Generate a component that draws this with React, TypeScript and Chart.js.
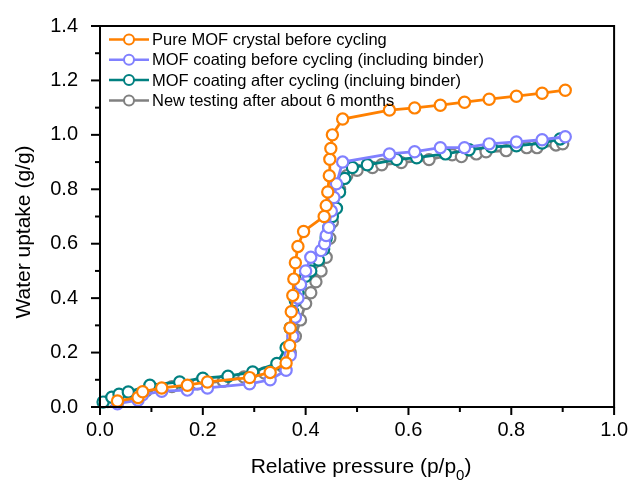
import React, { useEffect, useRef } from "react";
import { Chart, registerables } from "chart.js";

Chart.register(...registerables);

const FONT = "'Liberation Sans', Arial, sans-serif";

// Pure MOF crystal before cycling
const pureX = [0.034, 0.074, 0.083, 0.12, 0.17, 0.209, 0.291, 0.331, 0.362, 0.369, 0.37, 0.372, 0.375, 0.377, 0.38, 0.385, 0.396, 0.436, 0.44, 0.443, 0.446, 0.447, 0.449, 0.452, 0.472, 0.563, 0.612, 0.662, 0.709, 0.757, 0.81, 0.86, 0.905];
const pureY = [0.022, 0.035, 0.056, 0.07, 0.08, 0.092, 0.108, 0.127, 0.162, 0.226, 0.29, 0.35, 0.41, 0.47, 0.53, 0.59, 0.645, 0.70, 0.74, 0.79, 0.85, 0.91, 0.95, 1.0, 1.058, 1.091, 1.099, 1.109, 1.12, 1.131, 1.142, 1.153, 1.164];

// MOF coating before cycling (including binder)
const coatX = [0.034, 0.074, 0.083, 0.12, 0.17, 0.209, 0.291, 0.331, 0.362, 0.37, 0.375, 0.38, 0.385, 0.39, 0.40, 0.41, 0.43, 0.437, 0.44, 0.445, 0.45, 0.455, 0.46, 0.472, 0.563, 0.612, 0.662, 0.709, 0.757, 0.81, 0.86, 0.905];
const coatY = [0.012, 0.025, 0.045, 0.058, 0.062, 0.07, 0.085, 0.10, 0.135, 0.19, 0.26, 0.33, 0.40, 0.45, 0.50, 0.55, 0.575, 0.60, 0.63, 0.66, 0.72, 0.77, 0.82, 0.90, 0.93, 0.938, 0.953, 0.953, 0.967, 0.974, 0.982, 0.993];

// MOF coating after cycling (incluing binder)
const afterX = [0.006, 0.023, 0.037, 0.055, 0.097, 0.155, 0.2, 0.249, 0.297, 0.344, 0.362, 0.37, 0.375, 0.38, 0.385, 0.39, 0.40, 0.41, 0.425, 0.435, 0.44, 0.445, 0.452, 0.46, 0.466, 0.476, 0.491, 0.52, 0.577, 0.616, 0.672, 0.718, 0.761, 0.81, 0.86, 0.895];
const afterY = [0.018, 0.036, 0.047, 0.055, 0.08, 0.092, 0.106, 0.113, 0.129, 0.16, 0.218, 0.29, 0.35, 0.39, 0.42, 0.45, 0.48, 0.50, 0.54, 0.58, 0.62, 0.66, 0.70, 0.73, 0.79, 0.84, 0.88, 0.89, 0.909, 0.916, 0.93, 0.945, 0.956, 0.96, 0.97, 0.985];

// New testing after about 6 months
const newX = [0.015, 0.05, 0.09, 0.14, 0.19, 0.24, 0.28, 0.32, 0.355, 0.37, 0.38, 0.39, 0.40, 0.41, 0.42, 0.43, 0.44, 0.447, 0.452, 0.458, 0.466, 0.48, 0.50, 0.53, 0.548, 0.586, 0.64, 0.685, 0.703, 0.732, 0.751, 0.79, 0.83, 0.85, 0.887, 0.9];
const newY = [0.02, 0.04, 0.06, 0.075, 0.085, 0.095, 0.11, 0.125, 0.15, 0.20, 0.26, 0.32, 0.38, 0.42, 0.46, 0.50, 0.55, 0.62, 0.68, 0.73, 0.80, 0.85, 0.87, 0.88, 0.89, 0.898, 0.909, 0.927, 0.92, 0.93, 0.938, 0.942, 0.953, 0.953, 0.963, 0.967];

const seriesLabels = [
  "Pure MOF crystal before cycling",
  "MOF coating before cycling (including binder)",
  "MOF coating after cycling (incluing binder)",
  "New testing after about 6 months",
];
const seriesColors = ["#FF8000", "#8080FF", "#008080", "#808080"];
const seriesXs = [pureX, coatX, afterX, newX];
const seriesYs = [pureY, coatY, afterY, newY];

const xTitle = "Relative pressure (p/p";
const xTitleSub = "0";
const yTitle = "Water uptake (g/g)";

const isMajor = (v: number) => Math.round(v * 10) % 2 === 0;

// Frame, tick marks, axis titles and the in-plot legend
const decorations = {
  id: "decorations",
  afterDatasetsDraw(chart: any) {
    const { ctx, chartArea: a, scales } = chart;
    ctx.save();
    ctx.strokeStyle = "#000";
    ctx.lineWidth = 2;
    ctx.strokeRect(a.left, a.top, a.right - a.left, a.bottom - a.top);

    ctx.lineWidth = 2;
    for (const t of scales.x.ticks) {
      const px = scales.x.getPixelForValue(t.value);
      const len = isMajor(t.value) ? 8 : 5;
      ctx.beginPath();
      ctx.moveTo(px, a.bottom);
      ctx.lineTo(px, a.bottom + len);
      ctx.stroke();
    }
    for (const t of scales.y.ticks) {
      const py = scales.y.getPixelForValue(t.value);
      const len = isMajor(t.value) ? 9 : 5;
      ctx.beginPath();
      ctx.moveTo(a.left, py);
      ctx.lineTo(a.left - len, py);
      ctx.stroke();
    }

    // axis titles
    ctx.fillStyle = "#000";
    ctx.font = `21px ${FONT}`;
    ctx.textBaseline = "alphabetic";
    const mainW = ctx.measureText(xTitle).width;
    ctx.font = `15px ${FONT}`;
    const subW = ctx.measureText(xTitleSub).width;
    ctx.font = `21px ${FONT}`;
    const closeW = ctx.measureText(")").width;
    const total = mainW + subW + closeW;
    let sx = (a.left + a.right) / 2 + 4 - total / 2;
    const base = 473;
    ctx.textAlign = "left";
    ctx.fillText(xTitle, sx, base);
    sx += mainW;
    ctx.font = `15px ${FONT}`;
    ctx.fillText(xTitleSub, sx, base + 7);
    sx += subW;
    ctx.font = `21px ${FONT}`;
    ctx.fillText(")", sx, base);

    ctx.save();
    ctx.translate(24, 232);
    ctx.rotate(-Math.PI / 2);
    ctx.textAlign = "center";
    ctx.textBaseline = "middle";
    ctx.font = `21px ${FONT}`;
    ctx.fillText(yTitle, 0, 0);
    ctx.restore();

    // legend
    const ds = chart.data.datasets;
    ctx.font = `16.5px ${FONT}`;
    ctx.textAlign = "left";
    ctx.textBaseline = "middle";
    ds.forEach((d: any, i: number) => {
      const y = 39.5 + i * 20.3;
      ctx.strokeStyle = d.borderColor;
      ctx.lineWidth = 2.5;
      ctx.beginPath();
      ctx.moveTo(109, y);
      ctx.lineTo(149, y);
      ctx.stroke();
      ctx.beginPath();
      ctx.arc(129, y, 5, 0, Math.PI * 2);
      ctx.fillStyle = "#fff";
      ctx.fill();
      ctx.lineWidth = 2;
      ctx.stroke();
      ctx.fillStyle = "#000";
      ctx.fillText(d.label, 152, y + 1);
    });
    ctx.restore();
  },
};

export default function App() {
  const ref = useRef<HTMLCanvasElement | null>(null);

  useEffect(() => {
    if (!ref.current) return;
    const datasets = seriesLabels.map((label, i) => ({
      label,
      data: seriesXs[i].map((x, k) => ({ x, y: seriesYs[i][k] })),
      borderColor: seriesColors[i],
      backgroundColor: "#ffffff",
      pointBackgroundColor: "#ffffff",
      pointBorderColor: seriesColors[i],
      pointBorderWidth: 2.2,
      pointRadius: 5.6,
      borderWidth: 2.8,
      tension: 0,
      fill: false,
      clip: false as any,
    }));

    const chart = new Chart(ref.current, {
      type: "line",
      data: { datasets },
      options: {
        animation: false,
        responsive: false,
        devicePixelRatio: 1,
        layout: { padding: { top: 23, right: 18, left: 0, bottom: 0 } },
        plugins: { legend: { display: false }, tooltip: { enabled: false } },
        scales: {
          x: {
            type: "linear",
            min: 0,
            max: 1.0,
            border: { display: false },
            grid: { display: false },
            ticks: {
              stepSize: 0.1,
              autoSkip: false,
              maxRotation: 0,
              padding: 5,
              color: "#000",
              font: { family: FONT, size: 20, lineHeight: 1 },
              callback: (v: any) => (isMajor(Number(v)) ? Number(v).toFixed(1) : ""),
            },
            afterFit: (s: any) => {
              s.height = 79;
            },
          },
          y: {
            type: "linear",
            min: 0,
            max: 1.4,
            border: { display: false },
            grid: { display: false },
            ticks: {
              stepSize: 0.1,
              autoSkip: false,
              padding: 14,
              color: "#000",
              font: { family: FONT, size: 20 },
              callback: (v: any) => (isMajor(Number(v)) ? Number(v).toFixed(1) : ""),
            },
            afterFit: (s: any) => {
              s.width = 100;
            },
          },
        },
      },
      plugins: [decorations],
    });
    return () => chart.destroy();
  }, []);

  return (
    <div style={{ position: "absolute", left: 0, top: 0, width: 633, height: 486, background: "#fff" }}>
      <canvas ref={ref} width={633} height={486} style={{ display: "block" }} />
    </div>
  );
}
